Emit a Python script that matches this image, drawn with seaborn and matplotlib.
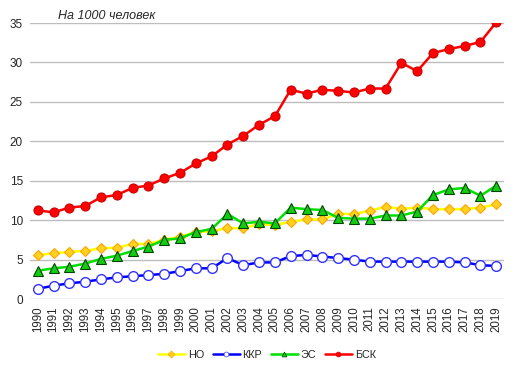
import matplotlib
matplotlib.use("Agg")
import matplotlib.pyplot as plt
from matplotlib.lines import Line2D
import seaborn as sns
import pandas as pd

years = list(range(1990, 2020))

no_vals = [5.6, 5.8, 6.0, 6.1, 6.45, 6.5, 7.0, 7.0, 7.5, 7.9,
           8.5, 8.6, 9.0, 9.0, 9.5, 9.4, 9.8, 10.1, 10.1, 10.8,
           10.8, 11.2, 11.7, 11.45, 11.6, 11.4, 11.4, 11.4, 11.6, 12.0]
kkr_vals = [1.3, 1.7, 2.0, 2.2, 2.5, 2.75, 2.9, 3.05, 3.2, 3.55,
            3.9, 3.9, 5.2, 4.3, 4.65, 4.65, 5.45, 5.6, 5.4, 5.2,
            5.0, 4.75, 4.75, 4.75, 4.75, 4.75, 4.75, 4.65, 4.3, 4.2]
es_vals = [3.6, 3.9, 4.1, 4.5, 5.1, 5.5, 6.1, 6.65, 7.5, 7.7,
           8.5, 8.9, 10.8, 9.6, 9.8, 9.6, 11.6, 11.4, 11.3, 10.3,
           10.2, 10.2, 10.6, 10.6, 11.1, 13.2, 13.9, 14.1, 13.1, 14.4]
bsk_vals = [11.25, 11.0, 11.6, 11.8, 12.9, 13.2, 14.1, 14.4, 15.3, 16.0,
            17.2, 18.1, 19.6, 20.7, 22.1, 23.2, 26.55, 26.05, 26.55, 26.4,
            26.2, 26.7, 26.7, 29.95, 28.9, 31.2, 31.7, 32.1, 32.6, 35.1]

series_names = ["НО", "ККР", "ЭС", "БСК"]

df = pd.DataFrame({
    "year": years * 4,
    "value": no_vals + kkr_vals + es_vals + bsk_vals,
    "series": [n for n in series_names for _ in years],
})

# line / marker styles per series
styles = {
    "НО": dict(color="#FFFF00", marker="D", markersize=5.5, mfc="#FFD21F", mec="#FFA500", mew=0.8),
    "ККР": dict(color="#0000FF", marker="o", markersize=7, mfc="white", mec="#3333FF", mew=1.0),
    "ЭС": dict(color="#00E000", marker="^", markersize=7.5, mfc="#11CC11", mec="#004400", mew=0.8),
    "БСК": dict(color="#FF0000", marker="o", markersize=6.5, mfc="#FF0000", mec="#CC0000", mew=0.8),
}

sns.set_style("white")
plt.rcParams["font.family"] = ["Liberation Sans", "DejaVu Sans"]

fig = plt.figure(figsize=(5.23, 3.72), dpi=100)
ax = fig.add_axes([0.057, 0.196, 0.907, 0.742])

for name in series_names:
    st = styles[name]
    sns.lineplot(data=df[df["series"] == name], x="year", y="value", ax=ax,
                 color=st["color"], linewidth=1.8, marker=st["marker"],
                 markersize=st["markersize"], markerfacecolor=st["mfc"],
                 markeredgecolor=st["mec"], markeredgewidth=st["mew"],
                 legend=False)

ax.set_xlim(1989.5, 2019.5)
ax.set_ylim(0, 35)
ax.set_yticks(range(0, 36, 5))
ax.set_xticks(years)
ax.set_xticklabels([str(y) for y in years], rotation=90, fontsize=8.3)
ax.tick_params(axis="y", labelsize=8.5, length=0, pad=5)
ax.tick_params(axis="x", length=0, pad=5)
ax.grid(axis="y", color="#BDBDBD", linewidth=1)
ax.set_axisbelow(True)
for s in ax.spines.values():
    s.set_visible(False)
ax.set_xlabel("")
ax.set_ylabel("")

fig.text(58 / 523, 1 - 16 / 372, "На 1000 человек", fontsize=9, style="italic",
         va="center", ha="left")

handles = []
for name in series_names:
    st = styles[name]
    handles.append(Line2D([0], [0], color=st["color"], linewidth=1.8, marker=st["marker"],
                          markersize=3.5, markerfacecolor=st["mfc"],
                          markeredgecolor=st["mec"], markeredgewidth=0.5))
fig.legend(handles, series_names, loc="center", bbox_to_anchor=(0.51, 1 - 355 / 372),
           ncol=4, frameon=False, fontsize=7.8, handlelength=2.5, columnspacing=0.8,
           handletextpad=0.25)

fig.savefig("out.png", dpi=100)
